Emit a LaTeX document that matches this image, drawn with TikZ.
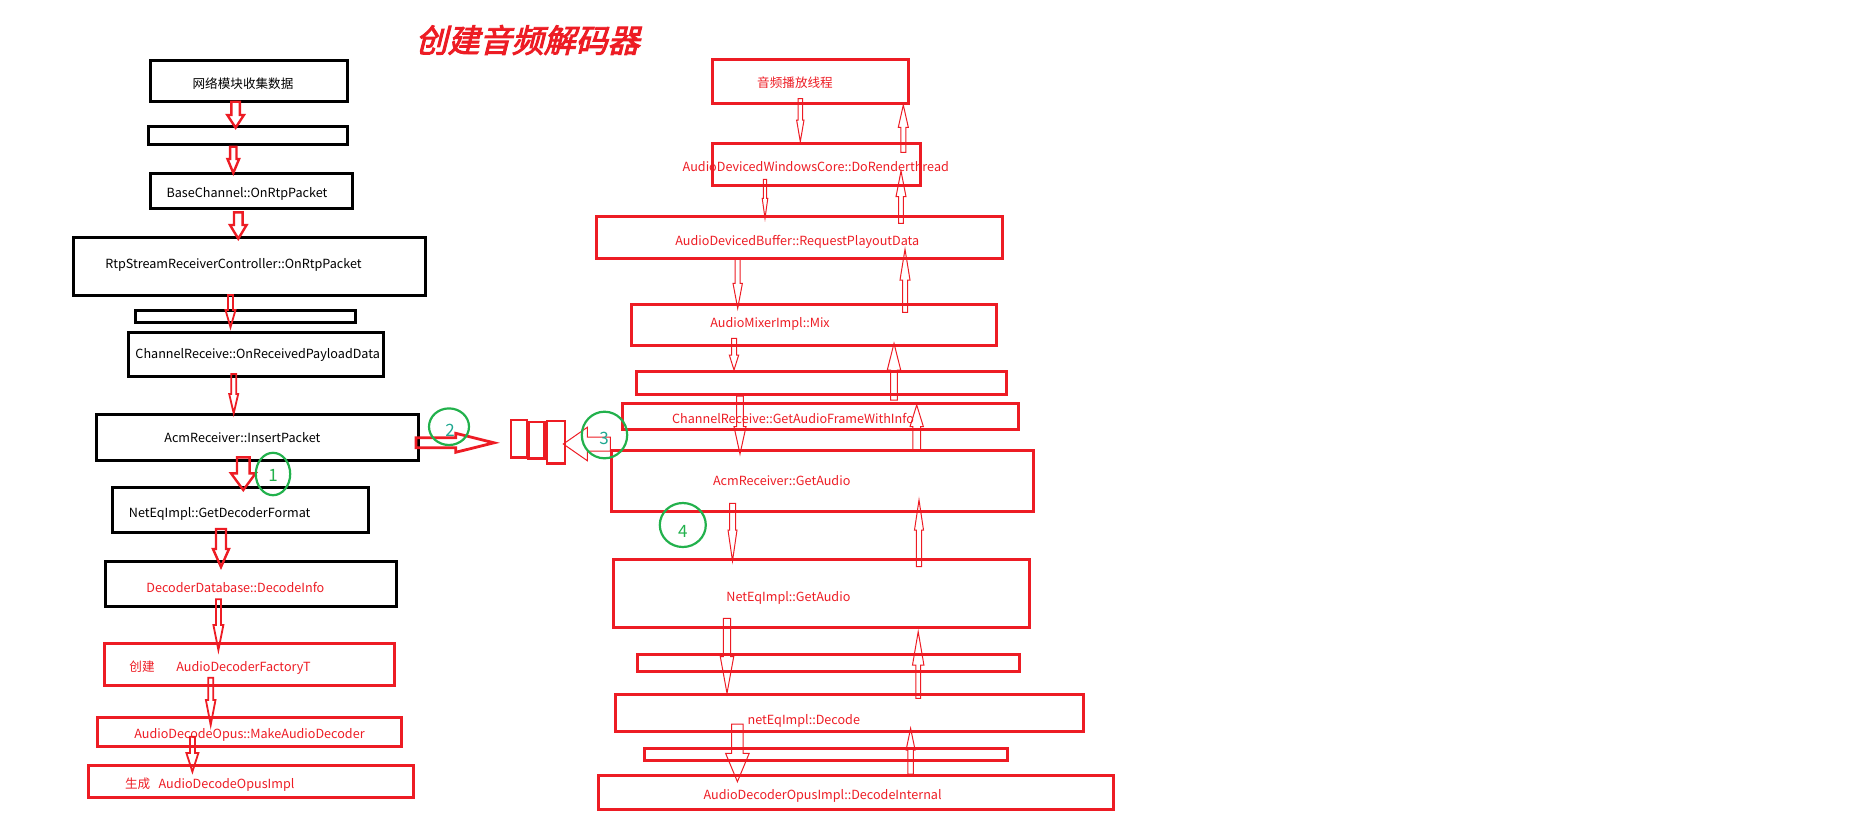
\documentclass[tikz,border=0pt]{standalone}
\usepackage{fontspec}
\setmainfont{Noto Sans CJK SC}
\newfontfamily\titlefont[FakeSlant=0.25,FakeBold=3]{Noto Sans CJK SC}
\definecolor{pred}{HTML}{ED1C24}
\definecolor{pgreen}{HTML}{22B14C}
\definecolor{pteal}{HTML}{1FA890}
% vertical block arrow: style, cx, y tail, y head base, y tip, shaft half width, head half width
\newcommand{\BArrowV}[7]{\draw[#1] ({#2-#6},#3) -- ({#2+#6},#3) -- ({#2+#6},#4) -- ({#2+#7},#4) -- (#2,#5) -- ({#2-#7},#4) -- ({#2-#6},#4) -- cycle;}
% horizontal block arrow: style, cy, x tail, x head base, x tip, shaft half, head half
\newcommand{\BArrowH}[7]{\draw[#1] (#3,{#2-#6}) -- (#4,{#2-#6}) -- (#4,{#2-#7}) -- (#5,#2) -- (#4,{#2+#7}) -- (#4,{#2+#6}) -- (#3,{#2+#6}) -- cycle;}
\tikzset{
  bbox/.style={draw=black, line width=1.5pt},
  rbox/.style={draw=pred, line width=1.5pt},
  qbox/.style={draw=pred, line width=1.2pt},
  lbl/.style={inner sep=0pt, anchor=mid, font=\fontsize{6.3}{8}\selectfont},
  blk/.style={lbl, text=black},
  rtx/.style={lbl, text=pred},
  arrL/.style={draw=pred, line width=1.2pt, line join=miter},
  arrH/.style={draw=pred, line width=1.4pt, line join=miter},
  arrM/.style={draw=pred, line width=0.9pt, line join=miter},
  arrT/.style={draw=pred, line width=0.5pt, line join=miter},
  circ/.style={draw=pgreen, line width=1.1pt},
  num/.style={inner sep=0pt, font=\fontsize{8.5}{10}\selectfont}
}
\begin{document}
\begin{tikzpicture}[x=0.5pt,y=-0.5pt]
\useasboundingbox (0,0) rectangle (1856,819);
% title
\node[text=pred, font=\titlefont\fontsize{16}{18}\selectfont, inner sep=0pt] (title) at (527.5,40) {创建音频解码器};

% ---------- left column texts ----------
\node[blk] (t1) at (243,83) {网络模块收集数据};
\node[blk] (t3) at (247,192) {BaseChannel::OnRtpPacket};
\node[blk] (t4) at (233.5,263) {RtpStreamReceiverController::OnRtpPacket};
\node[blk] (t6) at (257.7,353.3) {ChannelReceive::OnReceivedPayloadData};
\node[blk] (t7) at (242.4,436.7) {AcmReceiver::InsertPacket};
\node[blk] (t8) at (219.7,512) {NetEqImpl::GetDecoderFormat};
\node[rtx] (t9) at (235.4,587.3) {DecoderDatabase::DecodeInfo};
\node[rtx, anchor=mid west] (t10) at (129,665.7) {创建\hspace{10.9pt}AudioDecoderFactoryT};
\node[rtx] (t11) at (249.5,732.7) {AudioDecodeOpus::MakeAudioDecoder};
\node[rtx, anchor=mid west] (t12) at (124.6,783.3) {生成\hspace{4.2pt}AudioDecodeOpusImpl};

% ---------- left column boxes ----------
\draw[bbox] (150.3,60) rectangle (347.7,101);
\draw[bbox] (148,126) rectangle (347,144);
\draw[bbox] (150,173) rectangle (352.7,208);
\draw[bbox] (73,237) rectangle (425.8,295);
\draw[bbox] (135,310) rectangle (355,322.7);
\draw[bbox] (128.5,332.7) rectangle (383.7,376.7);
\draw[bbox] (96,414) rectangle (418.5,460);
\draw[bbox] (112,487.3) rectangle (368.4,532.3);
\draw[bbox] (105.5,561.7) rectangle (396.3,606.7);
\draw[rbox] (104.3,643.3) rectangle (394.4,685);
\draw[rbox] (97,717.3) rectangle (401,746);
\draw[rbox] (88.3,765) rectangle (413.6,797.7);

% ---------- left column arrows ----------
\BArrowV{arrL}{235.6}{101.7}{115}{127.7}{4.3}{8.3}
\BArrowV{arrL}{233.3}{146.7}{159}{173}{3.2}{5.8}
\BArrowV{arrL}{238.3}{212.3}{225}{238.7}{4.3}{8.3}
\BArrowV{arrM}{230.5}{295}{310}{327.3}{2.5}{5}
\BArrowV{arrM}{233.7}{374}{394}{413.3}{2.5}{4.5}
\BArrowV{arrL}{243.3}{457.3}{473.3}{490}{6.3}{12.3}
\BArrowV{arrL}{221}{529}{549}{567}{5}{8}
\BArrowV{arrM}{218.4}{599.3}{625}{650}{2.5}{5}
\BArrowV{arrM}{210.7}{677.7}{700}{725}{2.5}{4.8}
\BArrowV{arrM}{192.4}{736.7}{753}{771.7}{2.5}{6}

% ---------- queue ----------
\BArrowH{arrH}{442.8}{416}{455.7}{494}{5}{9.5}
\draw[qbox] (511,420) rectangle (527.2,457.3);
\draw[qbox] (528.4,421.7) rectangle (544.4,458.3);
\draw[qbox] (546.7,420.7) rectangle (564.7,463.3);
\BArrowH{arrT}{444}{610.4}{587.3}{563.3}{7}{16.7}

% ---------- right column texts ----------
\node[rtx] (r1) at (795,81.7) {音频播放线程};
\node[rtx] (r2) at (815.8,165.7) {AudioDevicedWindowsCore::DoRenderthread};
\node[rtx] (r3) at (797.3,240) {AudioDevicedBuffer::RequestPlayoutData};
\node[rtx] (r4) at (770,321.7) {AudioMixerImpl::Mix};
\node[rtx] (r6) at (793,417.7) {ChannelReceive::GetAudioFrameWithInfo};
\node[rtx] (r7) at (781.7,480) {AcmReceiver::GetAudio};
\node[rtx] (r8) at (788.4,595.7) {NetEqImpl::GetAudio};
\node[rtx] (r10) at (803.8,719) {netEqImpl::Decode};
\node[rtx] (r12) at (822.6,794) {AudioDecoderOpusImpl::DecodeInternal};

% ---------- right column boxes ----------
\draw[rbox] (712.7,59) rectangle (908.3,103.3);
\draw[rbox] (712.7,143.3) rectangle (920.7,185.7);
\draw[rbox] (596.7,216) rectangle (1002.7,258.3);
\draw[rbox] (631,304) rectangle (996.7,345);
\draw[rbox] (636,371.7) rectangle (1006.7,394.3);
\draw[rbox] (622.7,403.3) rectangle (1018.7,429.3);
\draw[rbox] (611.7,450) rectangle (1033.3,511.7);
\draw[rbox] (613.7,559.3) rectangle (1029.7,627.7);
\draw[rbox] (637.9,654.3) rectangle (1019,671.7);
\draw[rbox] (615.1,694.3) rectangle (1083.8,731);
\draw[rbox] (644,748.3) rectangle (1007,760.7);
\draw[rbox] (598.9,775.3) rectangle (1113,809.3);

% ---------- right column arrows ----------
\BArrowV{arrT}{800.3}{98.7}{120}{141.7}{2.2}{3.7}
\BArrowV{arrT}{903.3}{152.3}{127.3}{105}{2.5}{5}
\BArrowV{arrT}{765}{179.3}{198.3}{218.3}{1.7}{2.8}
\BArrowV{arrT}{901}{223.3}{196.7}{171}{2.3}{5}
\BArrowV{arrT}{737.7}{258.3}{283.3}{308.3}{2.5}{4.7}
\BArrowV{arrT}{905}{312.3}{280}{249.3}{2.5}{5}
\BArrowV{arrT}{734}{338.3}{355}{370}{2.5}{4.7}
\BArrowV{arrT}{894}{400}{370}{343.3}{3.3}{6.7}
\BArrowV{arrT}{740}{396}{426.7}{454}{3.3}{6}
\BArrowV{arrT}{916.7}{450}{426.7}{405}{3.8}{6.7}
\BArrowV{arrT}{732.5}{503.3}{530}{561}{3}{4.5}
\BArrowV{arrT}{919}{566.7}{530}{500}{2.7}{4.5}
\BArrowV{arrT}{727}{618.3}{656.7}{693.3}{3.6}{6.7}
\BArrowV{arrT}{918.2}{698.3}{665}{631.7}{2.3}{5.7}
\BArrowV{arrT}{737.4}{724}{753.3}{781.7}{5.7}{11.8}
\BArrowV{arrT}{910.6}{774}{750}{728.3}{2.7}{4.5}

% ---------- green markers ----------
\draw[circ] (273,474) ellipse [x radius=17.2, y radius=21.2];
\draw[circ] (449,426.7) ellipse [x radius=20, y radius=18.3];
\draw[circ] (604.5,435) ellipse [x radius=22.7, y radius=23.3];
\draw[circ] (682.8,525) ellipse [x radius=23, y radius=22];
\node[num, text=pgreen] (n1) at (273,475) {1};
\node[num, text=pteal] (n2) at (450,430) {2};
\node[num, text=pteal] (n3) at (604,438) {3};
\node[num, text=pgreen] (n4) at (682.8,531) {4};
\end{tikzpicture}
\end{document}
